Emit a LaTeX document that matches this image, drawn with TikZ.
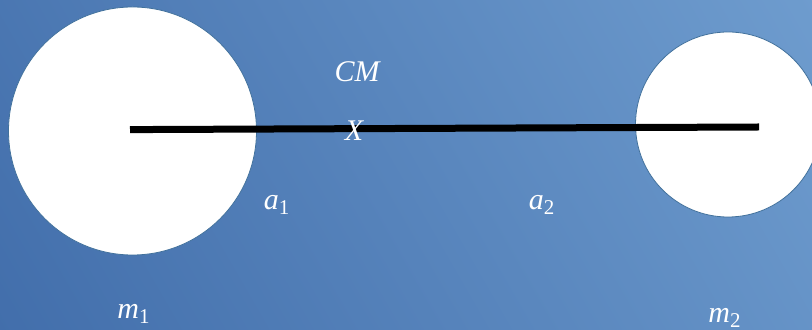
\documentclass[tikz,border=0pt]{standalone}
\usepackage{tikz}
\usepackage{fontspec}
\setmainfont{Liberation Serif}
\definecolor{bgdark}{HTML}{3E6AA8}
\definecolor{bglight}{HTML}{72A0D1}
\definecolor{edge}{HTML}{41719C}
\tikzset{
  mass/.style={circle,fill=white,draw=edge,line width=0.4pt,inner sep=0pt},
  rod/.style={line width=3.5pt,draw=black},
  lbl/.style={text=white,inner sep=0pt,font=\fontsize{15}{18}\selectfont\itshape},
}
\newcommand{\sub}[1]{\textsubscript{\upshape #1}}

\begin{document}
\begin{tikzpicture}[x=0.5pt,y=-0.5pt]
  \useasboundingbox (0,0) rectangle (812,330);
  \clip (0,0) rectangle (812,330);
  \shade[shading=axis,bottom color=bgdark,top color=bglight,shading angle=-60]
    (-200,-200) rectangle (1012,530);
  % the two masses
  \node[mass,minimum size=124pt] (big) at (132.5,131) {};
  \node[mass,minimum size=92.5pt] (small) at (728,124.5) {};
  \coordinate (rodstart) at (130,129.6);
  \coordinate (rodend) at (759,127);
  \draw[rod] (rodstart) -- (rodend);
  % labels
  \node[lbl] (cm) at (357,72) {CM};
  \node[lbl] (x) at (354,131) {X};
  \node[lbl] (a1) at (277,205) {a\sub{1}};
  \node[lbl] (a2) at (542,205) {a\sub{2}};
  \node[lbl] (m1) at (134,314) {m\sub{1}};
  \node[lbl] (m2) at (725,318) {m\sub{2}};
\end{tikzpicture}
\end{document}
